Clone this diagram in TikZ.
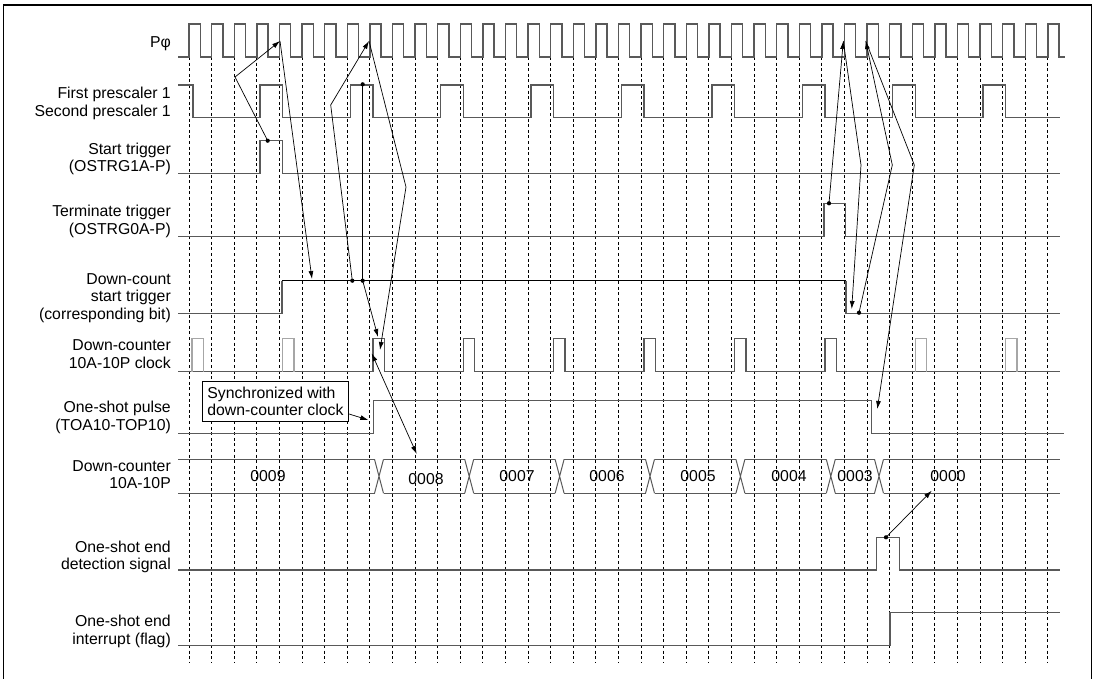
\documentclass[tikz,border=0pt]{standalone}
\usepackage{fontspec}
\setmainfont{Liberation Sans}
\usetikzlibrary{arrows.meta}

\begin{document}
\begin{tikzpicture}[
x=1pt, y=-1pt,
font=\fontsize{15.8}{17.6}\selectfont,
lbl/.style={anchor=east, align=right, inner sep=0pt},
val/.style={inner sep=0pt},
wave/.style={draw=black!65, line width=1.4pt},
wavelt/.style={draw=black!35, line width=1.3pt},
tickline/.style={black, line width=0.9pt, dash pattern=on 3pt off 2.6pt},
arr/.style={-{Latex[length=8pt,width=5pt]}, line width=0.7pt},
dbl/.style={{Latex[length=8pt,width=5pt]}-{Latex[length=8pt,width=5pt]}, line width=0.7pt},
dot/.style={circle, fill=black, inner sep=1.5pt},
note/.style={draw, line width=0.8pt, align=left, inner xsep=4pt, inner ysep=2pt,
  minimum width=146.6pt, minimum height=39.7pt, anchor=north west}
]
\useasboundingbox (0,0) rectangle (1100,678);

% Frame
\draw[line width=1.2pt] (3.7,680) -- (3.7,5) -- (1091.7,5) -- (1091.7,680);

% Signal names
\node[lbl] (nphi) at (171,44) {Pφ};
\node[lbl] (npre) at (171,103.5) {First prescaler 1\\Second prescaler 1};
\node[lbl] (nstart) at (171,159) {Start trigger\\(OSTRG1A-P)};
\node[lbl] (nterm) at (171,221.5) {Terminate trigger\\(OSTRG0A-P)};
\node[lbl] (ndcs) at (171,298) {Down-count\\start trigger\\(corresponding bit)};
\node[lbl] (nclk) at (171,354) {Down-counter\\10A-10P clock};
\node[lbl] (npulse) at (171,417.5) {One-shot pulse\\(TOA10-TOP10)};
\node[lbl] (ncnt) at (171,474.5) {Down-counter\\10A-10P};
\node[lbl] (ndet) at (171,557) {One-shot end\\detection signal};
\node[lbl] (nint) at (171,631.5) {One-shot end\\interrupt (flag)};

% Clock edges
\foreach \k in {0,...,38}
  \draw[tickline] ({189+22.6*\k},57) -- ({189+22.6*\k},662);

% P phi
\draw[wave] (178,57) foreach \k in {0,...,38} {
  -- ({189+22.6*\k},57) -- ({189+22.6*\k},24) -- ({200.3+22.6*\k},24) -- ({200.3+22.6*\k},57)
} -- (1065,57);

% Prescaler
\draw[wave] (178,85) -- (193,85) -- (193,117.5) foreach \m in {0,...,8} {
  -- ({259.8+90.4*\m},117.5) -- ({259.8+90.4*\m},85) -- ({282.4+90.4*\m},85) -- ({282.4+90.4*\m},117.5)
} -- (1060,117.5);

% Start trigger
\draw[wave] (178,173.7) -- (259.8,173.7) -- (259.8,140.7) -- (282.4,140.7) -- (282.4,173.7) -- (1060,173.7);

% Terminate trigger
\draw[wave] (178,236.7) -- (823.8,236.7) -- (823.8,203.3) -- (845.4,203.3) -- (845.4,236.7) -- (1060,236.7);

% Down-count start trigger
\draw[wave] (178,313.3) -- (282,313.3) -- (282,280.7);
\draw[line width=1pt] (282,280.7) -- (846,280.7);
\draw[wave] (846,280.7) -- (846,313.3) -- (1060,313.3);

% Down-counter clock
\draw[wave] (178,371.7) foreach \m in {2,...,7} {
  -- ({192+90.4*\m},371.7) -- ({192+90.4*\m},338.3) -- ({203.5+90.4*\m},338.3) -- ({203.5+90.4*\m},371.7)
} -- (1060,371.7);
\foreach \m in {0,1,8,9}
  \draw[wavelt] ({192+90.4*\m},371.7) -- ({192+90.4*\m},338.3) -- ({203.5+90.4*\m},338.3) -- ({203.5+90.4*\m},371.7);

% One-shot pulse
\draw[wave] (178,433.3) -- (373.3,433.3) -- (373.3,400.7) -- (871.7,400.7) -- (871.7,433.3) -- (1064,433.3);

% Down-counter value bus
\foreach \a/\b in {173.5/379, 379/469.2, 469.2/559.6, 559.6/650, 650/740.4, 740.4/830.8, 830.8/879, 879/1064.5} {
  \draw[wave] (\a+4.5,459.3) -- (\b-4.5,459.3);
  \draw[wave] (\a+4.5,493.3) -- (\b-4.5,493.3);
}
\foreach \c in {379, 469.2, 559.6, 650, 740.4, 830.8, 879}
  \draw[draw=black!65, line width=1pt] (\c-4.5,459.3) -- (\c+4.5,493.3) (\c-4.5,493.3) -- (\c+4.5,459.3);
\node[val] (v9) at (268,476) {0009};
\node[val] (v8) at (426,479) {0008};
\node[val] (v7) at (517,476) {0007};
\node[val] (v6) at (607,476) {0006};
\node[val] (v5) at (698,476) {0005};
\node[val] (v4) at (789,476) {0004};
\node[val] (v3) at (855,476) {0003};
\node[val] (v0) at (948,476) {0000};

% One-shot end detection signal
\draw[wave] (178,570) -- (876.7,570) -- (876.7,537.3) -- (899.3,537.3) -- (899.3,570) -- (1060,570);

% One-shot end interrupt
\draw[wave] (178,645.7) -- (890,645.7) -- (890,612.7) -- (1060,612.7);

% Note box
\node[note, fill=white] (sync) at (201.7,381) {Synchronized with\\down-counter clock};
\coordinate (syncto) at (368.3,420);
\draw[arr] (sync.east |- 0,414) -- (syncto);

% Cause and effect marks
\node[dot] (dA) at (267.7,140.7) {};
\node[dot] (dB) at (352.3,280.7) {};
\node[dot] (dC) at (362.7,84.3) {};
\node[dot] (dD) at (362.7,280.7) {};
\node[dot] (dE) at (829,203.3) {};
\node[dot] (dF) at (859,312.7) {};
\node[dot] (dG) at (886,537.3) {};

\coordinate (tipA) at (280,41);
\coordinate (bendA) at (235,77);
\coordinate (tipB) at (312,279);
\coordinate (bendB) at (330.7,105);
\coordinate (tipC) at (369,41);
\coordinate (bendC) at (406,187);
\coordinate (tipD) at (380,350);
\coordinate (tipE) at (378,337);
\coordinate (tipF) at (371.7,353.3);
\coordinate (tipG) at (416.7,454);
\coordinate (tipH) at (843.3,41);
\coordinate (bendH) at (861,165);
\coordinate (tipI) at (851.7,309);
\coordinate (bendF) at (892.3,165);
\coordinate (tipJ) at (865.7,41);
\coordinate (bendJ) at (914.3,165);
\coordinate (tipK) at (877.3,409);
\coordinate (tipL) at (931.7,490.7);

\draw[arr] (dA.center) -- (bendA) -- (tipA);
\draw[arr] (tipA) -- (tipB);
\draw[arr] (dB.center) -- (bendB) -- (tipC);
\draw[arr] (tipC) -- (bendC) -- (tipD);
\draw[line width=0.7pt] (dC.center) -- (dD.center);
\draw[arr] (dD.center) -- (tipE);
\draw[dbl] (tipF) -- (tipG);
\draw[arr] (dE.center) -- (tipH);
\draw[arr] (tipH) -- (bendH) -- (tipI);
\draw[arr] (dF.center) -- (bendF) -- (tipJ);
\draw[arr] (tipJ) -- (bendJ) -- (tipK);
\draw[arr] (dG.center) -- (tipL);

\end{tikzpicture}
\end{document}
